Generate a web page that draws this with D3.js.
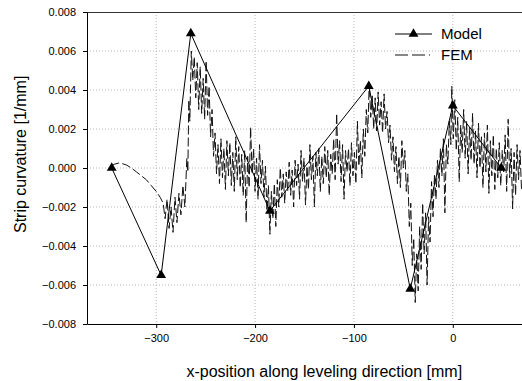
<!DOCTYPE html>
<html>
<head>
<meta charset="utf-8">
<script src="https://cdn.jsdelivr.net/npm/d3@7"></script>
<style>
	body { margin: 0; background: #fff; }
	text { font-family: Arial, "Liberation Sans", sans-serif; }
</style>
</head>
<body>
<div id="chart"></div>
<script>
// model curvature at the roll positions
let modelX = [-345, -295, -265, -185, -85, -43, 0, 49]
let modelY = [0.0000, -0.0055, 0.0069, -0.0022, 0.0042, -0.0062, 0.0032, 0.0000]

// FEM curvature
let femX = [-346, -342, -338, -334, -330, -325, -320, -315, -310, -305, -300, -296,
	-293, -291, -289, -287, -285, -283, -281, -279, -277, -275, -273, -271, -269, -268, -267, -266,
	-264.5, -263, -261.5, -260, -258.5, -257, -255.5, -254, -252.5, -251, -249.5, -248, -246.5, -245,
	-243.5, -242, -240.5, -239, -237.5, -236, -234.5, -233, -231.5, -230, -228.5, -227, -225.5, -224,
	-222.5, -221, -219.5, -218, -216.5, -215, -213.5, -212, -210.5, -209, -207.5, -206, -204.5, -203,
	-201.5, -200, -198.5, -197, -195.5, -194, -192.5, -191, -189.5, -188, -186.5, -185, -183.5, -182,
	-180.5, -179, -177.5, -176, -174.5, -173, -171.5, -170, -168.5, -167, -165.5, -164, -162.5, -161,
	-159.5, -158, -156.5, -155, -153.5, -152, -150.5, -149, -147.5, -146, -144.5, -143, -141.5, -140,
	-138.5, -137, -135.5, -134, -132.5, -131, -129.5, -128, -126.5, -125, -123.5, -122, -120.5, -119,
	-117.5, -116, -114.5, -113, -111.5, -110, -108.5, -107, -105.5, -104, -102.5, -101, -99.5, -98,
	-96.5, -95, -93.5, -92, -90.5, -89, -87.5, -86, -84.5, -83, -81.5, -80, -78.5, -77,
	-75.5, -74, -72.5, -71, -69.5, -68, -66.5, -65, -63.5, -62, -60.5, -59, -57.5, -56,
	-54.5, -53, -51.5, -50, -48.5, -47, -45.5, -44, -42.5, -41, -39.5, -38, -36.5, -35,
	-33.5, -32, -30.5, -29, -27.5, -26, -24.5, -23, -21.5, -20, -18.5, -17, -15.5, -14,
	-12.5, -11, -9.5, -8, -6.5, -5, -3.5, -2, -1, 0.5, 2, 3.5, 5, 6.5,
	8, 9.5, 11, 12.5, 14, 15.5, 17, 18.5, 20, 21.5, 23, 24.5, 26, 27.5,
	29, 30.5, 32, 33.5, 35, 36.5, 38, 39.5, 41, 42.5, 44, 45.5, 47, 48.5,
	50, 51.5, 53, 54.5, 56, 57.5, 59, 60.5, 62, 63.5, 65, 66.5, 68, 69.5]
let femY = [0.0001, 0.0002, 0.00025, 0.00022, 0.00015, 0.0000, -0.0002, -0.0004, -0.0006, -0.0009, -0.0012, -0.0015,
	-0.0018, -0.0026, -0.0016, -0.0031, -0.0020, -0.0033, -0.0015, -0.0028, -0.0013, -0.0024, -0.0009, -0.0020, 0.0005, -0.0002, 0.0035, 0.0024,
	0.0060, 0.0045, 0.0057, 0.0036, 0.0054, 0.0030, 0.0052, 0.0028, 0.0046, 0.0025, 0.0055, 0.0027, 0.0042, 0.0016,
	0.0030, 0.0006, 0.0018, -0.0003, 0.0012, -0.0008, 0.0015, -0.0005, 0.0010, -0.0011, 0.0014, -0.0004, 0.0013, -0.0009,
	0.0008, -0.0012, 0.0016, -0.0006, 0.0011, -0.0010, 0.0007, -0.0014, 0.0009, -0.0028, 0.0006, -0.0010, 0.0021, -0.0003,
	0.0010, -0.0012, 0.0005, -0.0016, 0.0012, -0.0008, 0.0004, -0.0015, 0.0001, -0.0022, -0.0009, -0.0034, -0.0012, -0.0026,
	-0.0008, -0.0030, -0.0006, -0.0020, 0.0000, -0.0015, -0.0003, -0.0018, -0.0002, -0.0012, 0.0003, -0.0014, -0.0001, -0.0020,
	0.0004, -0.0009, 0.0002, -0.0016, 0.0009, -0.0007, 0.0005, -0.0019, 0.0001, -0.0011, 0.0012, -0.0006, 0.0006, -0.0020,
	0.0008, -0.0004, 0.0010, -0.0012, 0.0006, -0.0008, 0.0011, -0.0005, 0.0009, -0.0014, 0.0007, -0.0003, 0.0015, -0.0006,
	0.0028, 0.0002, 0.0014, -0.0007, 0.0012, -0.0016, 0.0009, -0.0002, 0.0010, -0.0009, 0.0013, -0.0004, 0.0008, -0.0008,
	0.0024, 0.0001, 0.0014, -0.0005, 0.0020, 0.0006, 0.0030, 0.0018, 0.0044, 0.0026, 0.0037, 0.0020, 0.0036, 0.0019,
	0.0039, 0.0022, 0.0034, 0.0018, 0.0038, 0.0020, 0.0029, 0.0013, 0.0022, 0.0004, 0.0016, -0.0002, 0.0011, -0.0008,
	0.0006, -0.0010, 0.0014, 0.0000, 0.0009, -0.0012, -0.0003, -0.0030, -0.0018, -0.0050, -0.0036, -0.0069, -0.0044, -0.0063,
	-0.0030, -0.0052, -0.0018, -0.0044, -0.0023, -0.0060, -0.0025, -0.0038, -0.0007, -0.0025, -0.0003, -0.0016, 0.0004, -0.0010,
	0.0010, -0.0004, 0.0015, -0.0023, 0.0012, 0.0002, 0.0024, 0.0012, 0.0042, 0.0015, 0.0035, 0.0009, 0.0026, -0.0007,
	0.0022, 0.0008, 0.0030, 0.0005, 0.0024, -0.0003, 0.0021, 0.0004, 0.0028, 0.0002, 0.0019, -0.0005, 0.0023, 0.0000,
	0.0016, -0.0010, 0.0018, -0.0002, 0.0022, -0.0013, 0.0014, -0.0004, 0.0017, -0.0011, 0.0010, -0.0005, 0.0013, -0.0009,
	0.0009, -0.0002, 0.0017, -0.0012, 0.0025, -0.0005, 0.0010, -0.0021, 0.0008, -0.0014, 0.0012, -0.0006, 0.0009, -0.0011]

let xTicks = [-300, -200, -100, 0]
let yTicks = [-0.008, -0.006, -0.004, -0.002, 0.000, 0.002, 0.004, 0.006, 0.008]
let seriesNames = ['Model', 'FEM']

let dims = {width: 522, height: 381, margin: {left: 87, top: 12, right: 0, bottom: 57}}
let w = dims.width - dims.margin.left - dims.margin.right
let h = dims.height - dims.margin.top - dims.margin.bottom

let xScale = d3.scaleLinear().domain([-370, 70]).range([0, w])
let yScale = d3.scaleLinear().domain([-0.008, 0.008]).range([h, 0])

let svg = d3.select('#chart').append('svg')
	.attr('width', dims.width)
	.attr('height', dims.height)

let g = svg.append('g')
	.attr('transform', `translate(${dims.margin.left},${dims.margin.top})`)

g.append('clipPath').attr('id', 'plotClip')
	.append('rect').attr('x', 0).attr('y', 0).attr('width', w).attr('height', h)

// dotted grid
g.selectAll('line.vgrid').data(xTicks).enter().append('line')
	.classed('vgrid', true)
	.attr('x1', d => xScale(d)).attr('x2', d => xScale(d))
	.attr('y1', 0).attr('y2', h)
	.attr('stroke', '#b8b8b8').attr('stroke-dasharray', '1,2')
g.selectAll('line.hgrid').data(yTicks.slice(1, -1)).enter().append('line')
	.classed('hgrid', true)
	.attr('x1', 0).attr('x2', w)
	.attr('y1', d => yScale(d)).attr('y2', d => yScale(d))
	.attr('stroke', '#b8b8b8').attr('stroke-dasharray', '1,2')

// top frame
g.append('line').attr('x1', 0).attr('x2', w).attr('y1', 0.5).attr('y2', 0.5)
	.attr('stroke', '#333')

let xAxis = d3.axisBottom(xScale).tickValues(xTicks).tickSize(4).tickSizeOuter(0).tickPadding(6)
let yAxis = d3.axisLeft(yScale).tickValues(yTicks).tickFormat(d3.format('.3f')).tickSize(4).tickSizeOuter(0).tickPadding(7)

let gx = g.append('g').attr('transform', `translate(0,${h})`).call(xAxis)
let gy = g.append('g').call(yAxis)
for (let ax of [gx, gy]) {
	ax.select('.domain').attr('stroke', '#000')
	ax.selectAll('text').attr('font-size', 11).attr('fill', '#000').style('font-family', 'Arial, "Liberation Sans", sans-serif')
}

// series
let fem = femX.map((x, i) => [x, femY[i]])
let model = modelX.map((x, i) => [x, modelY[i]])
let line = d3.line().x(d => xScale(d[0])).y(d => yScale(d[1]))

let plot = g.append('g').attr('clip-path', 'url(#plotClip)')
plot.append('path').datum(fem)
	.attr('d', line)
	.attr('fill', 'none').attr('stroke', '#111').attr('stroke-width', 1)
	.attr('stroke-dasharray', '9,3')
plot.append('path').datum(model)
	.attr('d', line)
	.attr('fill', 'none').attr('stroke', '#000').attr('stroke-width', 1)

let tri = d3.symbol().type(d3.symbolTriangle).size(42)
plot.selectAll('path.marker').data(model).enter().append('path')
	.classed('marker', true)
	.attr('d', tri)
	.attr('transform', d => `translate(${xScale(d[0])},${yScale(d[1])})`)
	.attr('fill', '#000')

// legend
let lg = svg.append('g').attr('transform', 'translate(395,34)')
lg.append('line').attr('x1', 0).attr('x2', 37).attr('y1', 0).attr('y2', 0).attr('stroke', '#000')
lg.append('path').attr('d', tri).attr('transform', 'translate(18.5,0)').attr('fill', '#000')
lg.append('line').attr('x1', 0).attr('x2', 37).attr('y1', 21).attr('y2', 21)
	.attr('stroke', '#111').attr('stroke-dasharray', '13,4,13,4,1,2')
lg.selectAll('text').data(seriesNames).enter().append('text')
	.attr('x', 46).attr('y', (d, i) => i * 21)
	.attr('dy', '0.35em')
	.attr('font-size', 15)
	.text(d => d)

// axis titles
svg.append('text')
	.attr('x', dims.margin.left + xScale(-130)).attr('y', 377)
	.attr('text-anchor', 'middle').attr('font-size', 16)
	.text('x-position along leveling direction [mm]')
svg.append('text')
	.attr('transform', `translate(26,${dims.margin.top + yScale(0.0007)}) rotate(-90)`)
	.attr('text-anchor', 'middle').attr('font-size', 16)
	.text('Strip curvature [1/mm]')
</script>
</body>
</html>
